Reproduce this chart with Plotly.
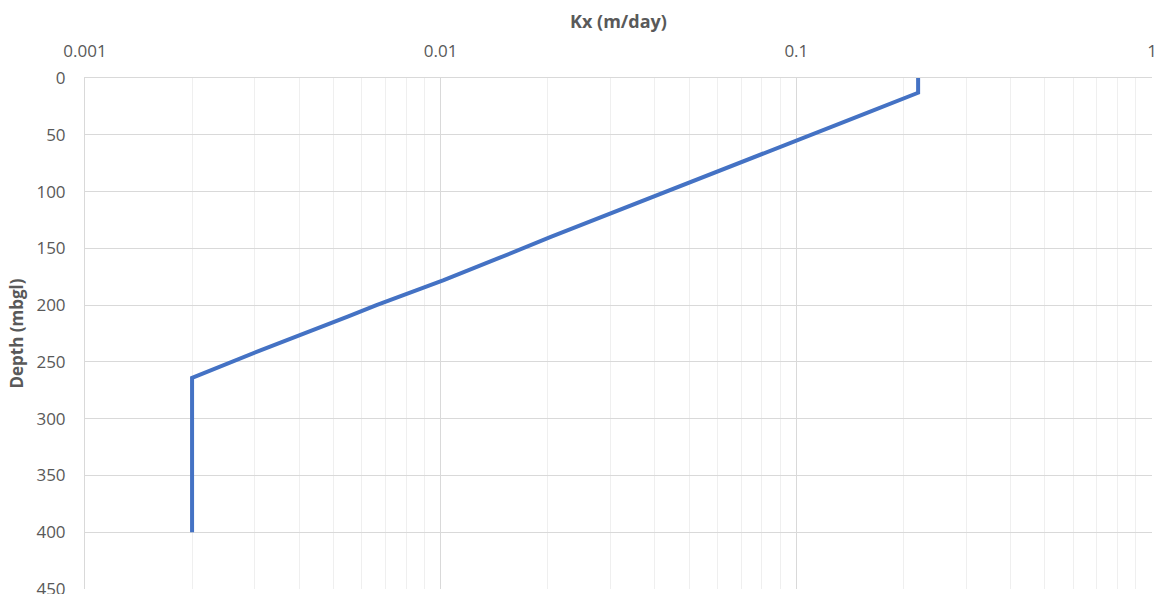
import plotly.graph_objects as go

depth_m = [0, 13, 30, 55, 70, 80, 100, 130, 140, 160, 178, 200, 210, 240, 264, 400]
kx_m_per_day = [0.22, 0.22, 0.16, 0.1, 0.0757, 0.0625, 0.0432, 0.0246, 0.0204, 0.0142,
                0.0102, 0.0066, 0.0055, 0.0031, 0.002, 0.002]

x_tick_vals = [0.001, 0.01, 0.1, 1]
x_tick_text = ["0.001", "0.01", "0.1", "1"]
y_tick_vals = [0, 50, 100, 150, 200, 250, 300, 350, 400, 450]

minor_vals = [m * d for d in [0.001, 0.01, 0.1] for m in range(2, 10)]

font_family = "Open Sans, Liberation Sans, sans-serif"
grey_text = "#595959"

fig = go.Figure()
fig.add_trace(go.Scatter(
    x=kx_m_per_day, y=depth_m, mode="lines",
    line=dict(color="#4472C4", width=4),
    showlegend=False, hoverinfo="skip",
))

fig.update_layout(
    width=1158, height=594,
    margin=dict(l=85, r=6, t=78, b=5),
    paper_bgcolor="white", plot_bgcolor="white",
    font=dict(family=font_family, size=17, color=grey_text),
    xaxis=dict(
        type="log", side="top", range=[-3, 0], automargin=False,
        tickmode="array", tickvals=x_tick_vals, ticktext=x_tick_text,
        showgrid=True, gridcolor="#D9D9D9", gridwidth=1,
        minor=dict(tickmode="array", tickvals=minor_vals, showgrid=True,
                   gridcolor="#EFEFEF", gridwidth=1),
        showline=True, linecolor="#D9D9D9", linewidth=1, mirror=False,
        zeroline=False, ticks="", ticklabelstandoff=13, ticklabeloverflow="allow",
        tickfont=dict(size=17, color=grey_text),
        title=dict(text="<b>Kx (m/day)</b>", font=dict(size=18, color=grey_text), standoff=5),
    ),
    yaxis=dict(
        range=[450, 0], tickmode="array", tickvals=y_tick_vals, automargin=False,
        showgrid=True, gridcolor="#D9D9D9", gridwidth=1,
        showline=True, linecolor="#D9D9D9", linewidth=1,
        zeroline=False, ticks="", ticklabelstandoff=15, ticklabeloverflow="allow",
        tickfont=dict(size=17, color=grey_text),
        title=dict(text="<b>Depth (mbgl)</b>", font=dict(size=17, color=grey_text), standoff=8),
    ),
)

fig.write_html(
    "out.html",
    config={"displayModeBar": False},
    post_script="document.body.style.margin='0';document.body.style.overflow='hidden';",
)
